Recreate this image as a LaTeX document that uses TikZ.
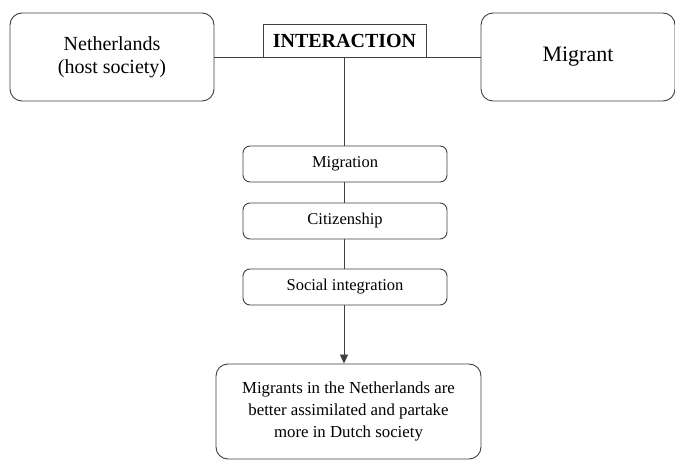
\documentclass[tikz,border=0pt]{standalone}
\usepackage{fontspec}
\setmainfont{Liberation Serif}
\usetikzlibrary{arrows.meta}
\begin{document}
\begin{tikzpicture}[x=1pt,y=-1pt,
  line width=0.9pt,
  ln/.style={draw=black!75},
  bigbox/.style={ln,rounded corners=12pt,fill=white,align=center,inner sep=0pt},
  smallbox/.style={ln,rounded corners=7pt,fill=white,align=center,inner sep=0pt,
     minimum width=204pt,minimum height=36pt,font=\fontsize{16.5}{20}\selectfont},
  titlebox/.style={ln,fill=white,inner sep=0pt,minimum width=163pt,minimum height=33pt,
     font=\fontsize{20}{24}\selectfont\bfseries}
]
\useasboundingbox[fill=white] (0,0) rectangle (675,462);
\node[bigbox,minimum width=204pt,minimum height=88pt,font=\fontsize{20}{23}\selectfont] (nl) at (112,57) {Netherlands\\(host society)};
\node[bigbox,minimum width=194pt,minimum height=88pt,font=\fontsize{22}{26}\selectfont] (mig) at (578,57) {Migrant};
\node[titlebox] (inter) at (344.5,40.5) {INTERACTION};
\node[smallbox] (m1) at (345,164) {Migration};
\node[smallbox] (m2) at (345,221) {Citizenship};
\node[smallbox] (m3) at (345,287) {Social integration};
\node[bigbox,minimum width=265pt,minimum height=95pt,font=\fontsize{16.8}{21.7}\selectfont] (res) at (348.5,411.5) {Migrants in the Netherlands are\\better assimilated and partake\\more in Dutch society};
\coordinate (hub) at (344,57);
\draw[ln] (nl.east) -- (mig.west);
\draw[ln] (hub) -- (hub |- m1.north);
\draw[ln] (hub |- m1.south) -- (hub |- m2.north);
\draw[ln] (hub |- m2.south) -- (hub |- m3.north);
\draw[ln,-{Triangle[length=9pt,width=8pt]}] (hub |- m3.south) -- (hub |- res.north);
\end{tikzpicture}
\end{document}
